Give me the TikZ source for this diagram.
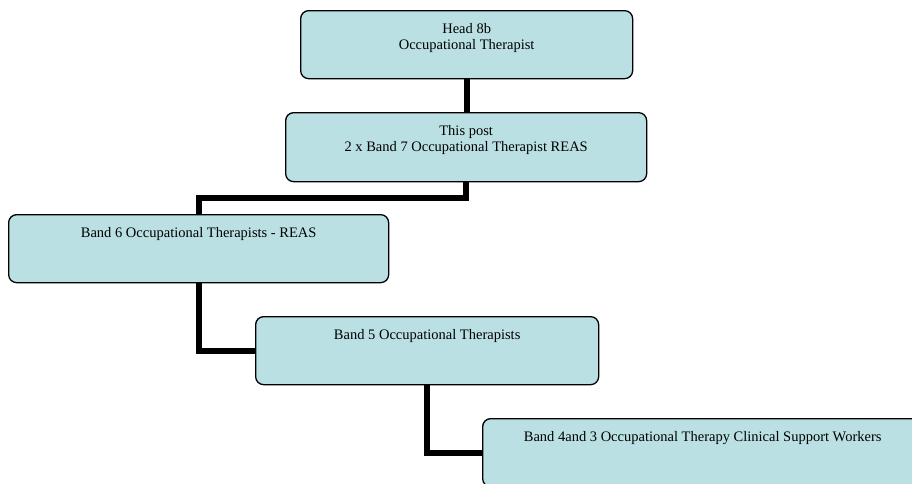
\documentclass[tikz,border=0pt]{standalone}
\usepackage{fontspec}
\setmainfont{Liberation Serif}
\usepackage{xcolor}
\usetikzlibrary{positioning}
\definecolor{boxfill}{RGB}{186,224,228}

\begin{document}
\begin{tikzpicture}[x=1pt,y=1pt,font=\fontsize{14.5}{16.5}\selectfont,
  role/.style={draw,rounded corners=8pt,fill=boxfill,line width=1.3pt,anchor=north west,inner sep=0pt},
  lbl/.style={inner sep=0pt,align=center},
  link/.style={draw,line width=6pt}]
\useasboundingbox (0,0) rectangle (912,-483);
\node[role,minimum width=332pt,minimum height=68pt] (head) at (300,-10) {};
\node[role,minimum width=361pt,minimum height=69pt] (post) at (285,-112) {};
\node[role,minimum width=380pt,minimum height=68pt] (band6) at (8,-214) {};
\node[role,minimum width=343pt,minimum height=68pt] (band5) at (255,-316) {};
\node[role,minimum width=440pt,minimum height=68pt] (band4) at (482,-418) {};
\node[lbl,below=13pt of head.north] (headtxt) {Head 8b\\Occupational Therapist};
\node[lbl,below=13pt of post.north] (posttxt) {This post\\2 x Band 7 Occupational Therapist REAS};
\node[lbl,below=13pt of band6.north] (band6txt) {Band 6 Occupational Therapists - REAS};
\node[lbl,below=13pt of band5.north] (band5txt) {Band 5 Occupational Therapists};
\node[lbl,below=13pt of band4.north] (band4txt) {Band 4and 3 Occupational Therapy Clinical Support Workers};
\draw[link] (head.south) -- (head.south |- post.north);
\draw[link] (post.south) -- ++(0,-16) -| (band6.north);
\draw[link] (band6.south) |- (band5.west);
\draw[link] (band5.south) |- (band4.west);
\end{tikzpicture}
\end{document}
